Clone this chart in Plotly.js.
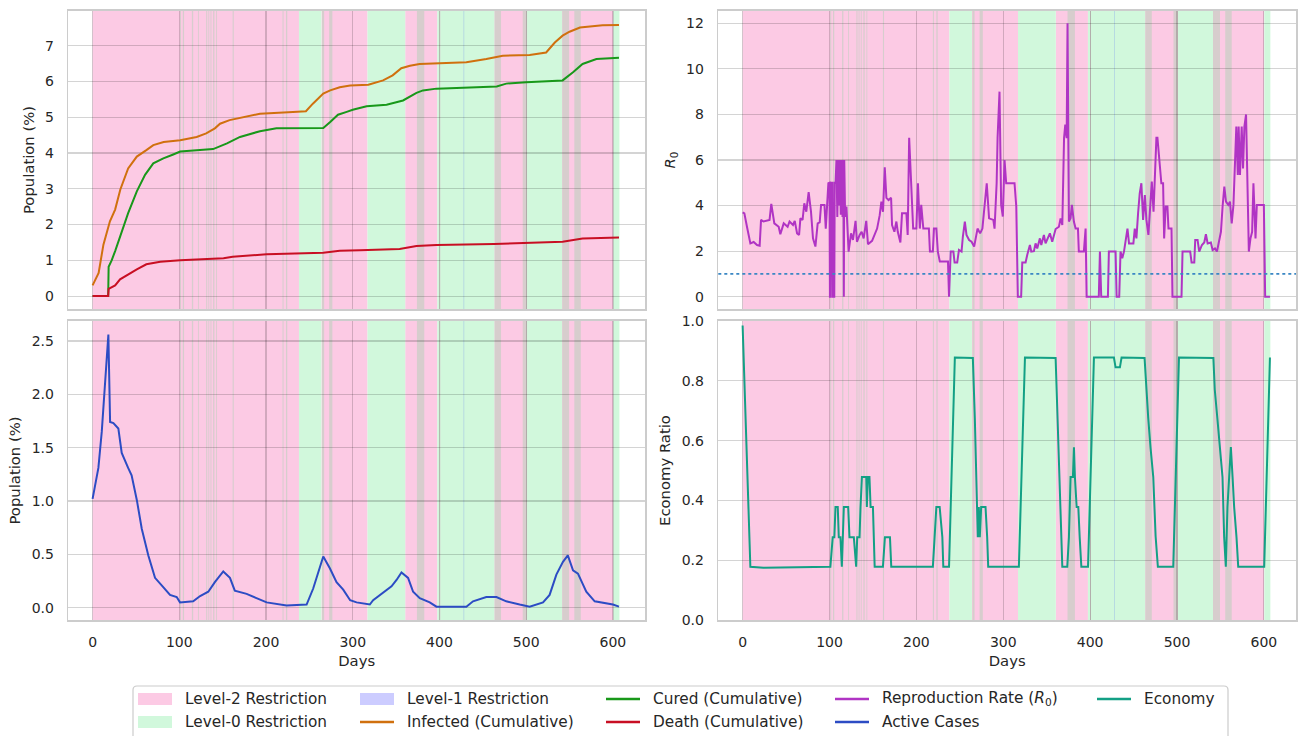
<!DOCTYPE html>
<html><head><meta charset="utf-8">
<script src="https://cdn.plot.ly/plotly-3.0.1.min.js"></script>
<style>html,body{margin:0;padding:0;background:#fff}#chart{width:1306px;height:736px}</style>
</head><body><div id="chart"></div>
<script>
// ---------------- DATA ----------------
const infDays = [0, 2, 7, 12.5, 20, 26, 32, 41, 51, 62, 70, 82, 101, 120, 131, 141, 147, 158, 174, 193, 231, 246, 254, 266, 274, 285, 297, 308, 318, 335, 346, 356, 366, 377, 431, 454, 473, 504, 523, 533, 542, 550, 562, 588, 607];
const infVals = [0.30, 0.40, 0.65, 1.44, 2.09, 2.42, 2.98, 3.57, 3.90, 4.08, 4.22, 4.31, 4.36, 4.45, 4.55, 4.69, 4.82, 4.92, 5.01, 5.10, 5.15, 5.17, 5.38, 5.66, 5.75, 5.84, 5.89, 5.89, 5.91, 6.03, 6.17, 6.37, 6.44, 6.49, 6.54, 6.63, 6.72, 6.74, 6.81, 7.09, 7.28, 7.39, 7.51, 7.57, 7.58];

const curedDays = [0, 18, 18.5, 22, 26, 33.6, 41, 51, 60.5, 70, 81.6, 93, 101, 139, 155, 170, 193, 212, 266, 274, 283, 293, 300, 316, 339, 358, 373.5, 381, 396.5, 466, 477, 500, 542, 554, 565, 581, 607];
const curedVals = [0, 0, 0.82, 1.0, 1.26, 1.81, 2.32, 2.93, 3.39, 3.71, 3.85, 3.96, 4.04, 4.11, 4.27, 4.45, 4.61, 4.69, 4.70, 4.87, 5.07, 5.15, 5.21, 5.31, 5.35, 5.47, 5.68, 5.75, 5.80, 5.86, 5.94, 5.98, 6.03, 6.26, 6.49, 6.63, 6.66];

const deathDays = [0, 18, 18.5, 22, 26, 31.7, 41, 51, 62, 78, 101, 151, 161.5, 200.7, 266, 285, 308, 354, 373.5, 396.5, 463, 542, 565, 607];
const deathVals = [0, 0, 0.20, 0.25, 0.30, 0.47, 0.61, 0.75, 0.89, 0.96, 1.00, 1.06, 1.10, 1.17, 1.21, 1.27, 1.28, 1.32, 1.40, 1.43, 1.46, 1.52, 1.61, 1.64];

const activeDays = [0, 6.7, 10.6, 14.4, 18.2, 20.2, 24, 29.7, 33.6, 41, 45, 51, 56.7, 64.3, 72, 79.7, 89.3, 97, 100.8, 116, 124, 133.4, 141, 150.7, 158.4, 164, 177.6, 189, 200.7, 223.7, 246.8, 254.4, 266, 273.6, 281.3, 289, 297, 304.4, 319.7, 323.5, 335, 344.7, 350.5, 356.2, 363.8, 369.6, 377.3, 388.8, 396.5, 431, 438.7, 454, 465.7, 477, 492.5, 504, 519.4, 527, 534.8, 542.4, 548, 554, 559.7, 569.3, 579, 600, 607];
const activeVals = [1.02, 1.31, 1.65, 2.12, 2.56, 1.74, 1.73, 1.68, 1.45, 1.31, 1.24, 1.01, 0.74, 0.49, 0.28, 0.21, 0.12, 0.10, 0.05, 0.06, 0.11, 0.15, 0.24, 0.34, 0.28, 0.16, 0.13, 0.09, 0.05, 0.02, 0.03, 0.18, 0.48, 0.37, 0.24, 0.17, 0.07, 0.05, 0.03, 0.07, 0.14, 0.20, 0.26, 0.33, 0.28, 0.15, 0.09, 0.05, 0.01, 0.01, 0.06, 0.10, 0.10, 0.06, 0.03, 0.01, 0.05, 0.12, 0.31, 0.43, 0.49, 0.35, 0.32, 0.15, 0.06, 0.03, 0.01];

const r0Days = [0, 2, 5, 8.9, 12.7, 16.6, 19.6, 21.2, 24, 27.9, 31, 33, 36.5, 41.5, 43.4, 47.3, 51.8, 54, 58, 60, 62.7, 65, 66.5, 69, 71, 73.3, 76, 78.7, 81, 83.8, 86.4, 88.7, 90.3, 94.2, 95.7, 98.7,
  100, 100.5, 101.5, 102, 103.5, 104, 105.5, 106, 107, 108, 109, 110, 111, 112, 113, 114, 115, 116, 116.5, 117, 118, 119.5, 122, 124.8, 127, 130, 131.6, 134.7, 137, 139.3, 142.3, 144.3, 149, 154.8, 157.8, 159.7, 161.6, 163.6, 165.5, 168, 170.9, 172, 174.7, 177, 178.6, 181.6, 183.5, 188.5, 190, 191.7, 194.8, 196.3, 200, 201.8, 204, 205.6, 208, 214.4, 215.6, 219, 220.2, 223, 224.7, 227, 236.4, 237.6, 239.5, 242.6, 244, 247, 249, 252, 253.5, 255.8, 257.7, 260.7, 263.5, 266.5, 270.4, 273.4, 276, 278.8, 281, 283.7, 288.6, 290, 292.4, 293.5, 295.7, 297.6, 299.5, 301.5, 303.4, 313, 315, 316.8, 320.6, 321.9, 325.7, 327.6, 330.7, 332.3, 335.3, 337.2, 339.1, 342.2, 343.8, 346.8, 348.7, 353.7, 356.4, 360.3, 364.1, 366, 368, 370, 371.4, 373, 374, 375.6, 377.5, 379, 381.3, 383.3, 386, 387, 392.8, 394.8, 396, 410, 411.3, 412.8, 420.5, 421.6, 429.3, 430.5, 433.5, 435, 437, 439, 441, 443, 444.8, 449.8, 451.4, 453.3, 455.2, 457.1, 459, 461, 463, 464.8, 467.1, 469, 471, 473, 474.8, 476.3, 477.5, 479.4, 482, 484, 485.2, 487, 489, 490.2, 493.7, 494.8, 505.2, 506.4, 515.2, 516.8, 519.9, 521, 523.7, 525.6, 528.7, 531.4, 533.3, 535.3, 539, 541, 543.7, 546, 548.7, 550.6, 552.5, 554.5, 556.4, 559, 561, 563, 565, 566.8, 568.3, 570, 571, 572.5, 574.5, 576, 577.6, 579.5, 581.5, 582.7, 584.6, 586.5, 588, 589.2, 590.4, 591.9, 600, 601.5, 607];
const r0Vals = [3.7, 3.66, 3.07, 2.34, 2.4, 2.27, 2.24, 3.37, 3.3, 3.33, 3.37, 4.07, 3.22, 3.07, 2.74, 3.22, 3.07, 3.3, 3.15, 3.33, 2.78, 2.71, 3.44, 3.37, 4.1, 3.73, 4.59, 3.73, 2.56, 2.2, 3.22, 3.26, 4.03, 4.03, 2.99, 4.98,
  5.0, 0, 0, 5.0, 5.0, 0, 0, 5.0, 5.0, 6.0, 3.5, 6.0, 4.0, 6.0, 3.6, 6.0, 3.5, 6.0, 0, 6.0, 3.5, 3.96, 1.98, 2.78, 2.49, 3.33, 2.41, 2.71, 2.85, 2.56, 3.33, 2.3, 2.45, 2.99, 3.58, 4.17, 3.73, 5.68, 4.34, 4.24, 4.34, 3.14, 2.85, 3.3, 2.85, 2.38, 3.66, 3.66, 2.71, 6.98, 4.46, 2.99, 2.99, 4.98, 2.99, 4.03, 2.99, 2.99, 1.98, 1.98, 2.99, 2.99, 1.98, 1.54, 1.54, 0, 1.98, 1.98, 1.5, 1.5, 2.05, 1.98, 2.63, 3.3, 2.71, 2.49, 2.41, 2.2, 2.99, 2.78, 2.99, 3.96, 4.98, 3.44, 3.37, 2.99, 4.98, 7.0, 9.0, 4.03, 3.52, 6.0, 4.98, 4.98, 3.96, 0, 0, 1.5, 1.5, 1.83, 2.27, 1.98, 2.0, 2.34, 2.12, 2.56, 2.27, 2.71, 2.34, 2.78, 2.41, 2.97, 3.07, 3.44, 3.15, 6.96, 7.55, 6.96, 12.0, 3.3, 3.44, 4.03, 3.3, 2.99, 2.99, 1.98, 1.98, 2.99, 0, 0, 1.98, 0, 0, 1.98, 1.98, 0, 0, 1.98, 1.69, 1.98, 2.41, 2.99, 2.34, 2.34, 2.99, 2.56, 3.66, 4.54, 4.98, 3.37, 4.46, 3.37, 2.71, 3.73, 5.05, 3.73, 5.93, 6.98, 6.98, 6.0, 4.98, 4.98, 2.56, 3.96, 3.96, 2.99, 2.99, 0, 0, 1.98, 1.98, 1.5, 1.5, 2.49, 2.49, 1.98, 2.27, 2.38, 2.74, 2.34, 2.38, 2.05, 2.12, 1.98, 2.56, 2.85, 3.96, 4.83, 4.17, 4.03, 4.17, 3.22, 4.03, 6.37, 7.47, 5.34, 7.47, 5.34, 7.47, 5.63, 7.47, 8.0, 4.03, 1.98, 2.56, 2.85, 4.98, 4.03, 2.56, 4.03, 4.03, 0, 0];
const r0Threshold = 1;

const econDays = [0, 8.9, 24, 101, 103.7, 105.6, 106.9, 109.5, 110.7, 112.6, 114.2, 116.5, 121.5, 123, 128, 130.7, 131.9, 134.6, 135.7, 137.3, 142.3, 143, 144.2, 146, 147.3, 150, 152, 161.5, 163.8, 169.6, 171.1, 219, 221, 223, 226.8, 229.9, 231, 237.6, 244.3, 265, 267.3, 270.7, 271.9, 273, 274.6, 279.6, 281.5, 282.7, 318, 325, 360.3, 368, 373.7, 375.6, 377.5, 380.2, 381.4, 382.5, 384.5, 386.4, 388, 389.9, 397.6, 404.4, 427.4, 429.3, 434.3, 436.2, 462.7, 464.6, 466.9, 469.6, 472.7, 475.4, 478, 495.7, 502.3, 541.9, 543.5, 546.6, 549.3, 552.4, 554.3, 556.2, 558.1, 560, 562, 564, 565.8, 568.5, 570.5, 600.4, 607];
const econVals = [0.985, 0.178, 0.175, 0.178, 0.277, 0.277, 0.378, 0.378, 0.277, 0.277, 0.178, 0.378, 0.378, 0.277, 0.277, 0.178, 0.277, 0.277, 0.378, 0.478, 0.478, 0.378, 0.478, 0.478, 0.378, 0.378, 0.178, 0.178, 0.277, 0.277, 0.178, 0.178, 0.277, 0.378, 0.378, 0.277, 0.178, 0.178, 0.878, 0.876, 0.675, 0.277, 0.378, 0.277, 0.378, 0.378, 0.277, 0.178, 0.178, 0.878, 0.876, 0.178, 0.178, 0.277, 0.478, 0.478, 0.578, 0.478, 0.378, 0.378, 0.277, 0.178, 0.178, 0.878, 0.878, 0.845, 0.845, 0.878, 0.876, 0.78, 0.675, 0.575, 0.478, 0.28, 0.178, 0.178, 0.878, 0.876, 0.77, 0.67, 0.575, 0.478, 0.277, 0.178, 0.378, 0.478, 0.578, 0.478, 0.378, 0.277, 0.178, 0.178, 0.878];

// restriction periods (days)
const level2Spans = [[0, 238], [264, 317], [360.5, 397.5], [463.5, 501], [541.5, 600.5]];
const level0Spans = [[238, 264], [317, 360.5], [397.5, 463.5], [501, 541.5], [600.5, 607.5]];
const level1Spans = [[427.6, 428.6]];
const mixedSpans = [[100.8, 102], [104, 105.5], [114.5, 116], [121.5, 122.5], [131, 132.2], [133.5, 134.5], [136, 137], [139, 140.5], [142.5, 143.5], [161.5, 162.8], [219, 220.2], [223, 224.5], [264.5, 267], [272.8, 276.5], [374, 382.5], [400, 401], [463.5, 471], [496, 501], [541.5, 549.5], [555.5, 563]];

const xTicks = [0, 100, 200, 300, 400, 500, 600];
const legendLabels = ['Level-2 Restriction', 'Level-0 Restriction', 'Level-1 Restriction', 'Infected (Cumulative)', 'Cured (Cumulative)', 'Death (Cumulative)', 'Reproduction Rate (<i>R</i><sub>0</sub>)', 'Active Cases', 'Economy'];

// ---------------- STYLE ----------------
const W = 1306, H = 736;
const C = {
  pink: '#fccae4', green: '#d1f8dc', lav: '#ccccff', mixed: '#d7cdcd', l1line: '#b3d6e2',
  inf: '#d0700e', cured: '#18981a', death: '#c80f23', active: '#2c4cc4', r0: '#b034c4', econ: '#13a085',
  grid: 'rgba(0,0,0,0.17)', frame: '#cccccc', text: '#262626'
};
const FONT = 'DejaVu Sans, Liberation Sans, sans-serif';
const px2x = p => p / W, px2y = p => 1 - p / H;

const domL = [px2x(68.3), px2x(645)], domR = [px2x(718.3), px2x(1296)];
const domT = [px2y(309), px2y(11)], domB = [px2y(620), px2y(321)];
const xRange = [-28, 637];

function xax(dom, anchor, showLabels) {
  const a = {
    domain: dom, anchor: anchor, range: xRange, tickvals: xTicks, showticklabels: showLabels,
    showgrid: true, gridcolor: C.grid, gridwidth: 1.2, zeroline: false,
    showline: true, mirror: true, linecolor: C.frame, linewidth: 1.6,
    ticks: '', ticklabelstandoff: 9, tickfont: {size: 14, color: C.text, family: FONT}
  };
  if (showLabels) a.title = {text: 'Days', font: {size: 14.8, color: C.text, family: FONT}, standoff: 6};
  return a;
}
function yax(dom, anchor, range, tickvals, fmt, title) {
  return {
    domain: dom, anchor: anchor, range: range, tickvals: tickvals, tickformat: fmt,
    showgrid: true, gridcolor: C.grid, gridwidth: 1.2, zeroline: false,
    showline: true, mirror: true, linecolor: C.frame, linewidth: 1.6,
    ticks: '', ticklabelstandoff: 10, tickfont: {size: 14, color: C.text, family: FONT},
    title: {text: title, font: {size: 14.8, color: C.text, family: FONT}, standoff: 7}
  };
}

const traces = [
  {x: infDays, y: infVals, xaxis: 'x', yaxis: 'y', type: 'scatter', mode: 'lines', line: {color: C.inf, width: 2}},
  {x: curedDays, y: curedVals, xaxis: 'x', yaxis: 'y', type: 'scatter', mode: 'lines', line: {color: C.cured, width: 2}},
  {x: deathDays, y: deathVals, xaxis: 'x', yaxis: 'y', type: 'scatter', mode: 'lines', line: {color: C.death, width: 2}},
  {x: r0Days, y: r0Vals, xaxis: 'x2', yaxis: 'y2', type: 'scatter', mode: 'lines', line: {color: C.r0, width: 2}},
  {x: activeDays, y: activeVals, xaxis: 'x3', yaxis: 'y3', type: 'scatter', mode: 'lines', line: {color: C.active, width: 2}},
  {x: econDays, y: econVals, xaxis: 'x4', yaxis: 'y4', type: 'scatter', mode: 'lines', line: {color: C.econ, width: 2}}
];

const shapes = [];
const pairs = [['x', 'y'], ['x2', 'y2'], ['x3', 'y3'], ['x4', 'y4']];
function addSpans(spans, color) {
  pairs.forEach(([xa, ya]) => spans.forEach(s => shapes.push({
    type: 'rect', xref: xa, yref: ya + ' domain', x0: s[0], x1: s[1], y0: 0, y1: 1,
    fillcolor: color, line: {width: 0}, layer: 'below'
  })));
}
addSpans(level2Spans, C.pink);
addSpans(level0Spans, C.green);
addSpans(mixedSpans, C.mixed);
addSpans(level1Spans, C.l1line);

shapes.push({type: 'line', xref: 'x2 domain', yref: 'y2', x0: 0, x1: 1, y0: r0Threshold, y1: r0Threshold,
  line: {color: '#3a87c4', width: 1.6, dash: 'dot'}, layer: 'above'});

// ---------- legend (manual, matplotlib-like 5 columns) ----------
const annotations = [];
const bx0 = 133, bx1 = 1228, by0 = 686, by1 = 760, r = 4;
shapes.push({type: 'path', xref: 'paper', yref: 'paper',
  path: `M ${px2x(bx0 + r)} ${px2y(by0)} L ${px2x(bx1 - r)} ${px2y(by0)} Q ${px2x(bx1)} ${px2y(by0)} ${px2x(bx1)} ${px2y(by0 + r)} L ${px2x(bx1)} ${px2y(by1)} L ${px2x(bx0)} ${px2y(by1)} L ${px2x(bx0)} ${px2y(by0 + r)} Q ${px2x(bx0)} ${px2y(by0)} ${px2x(bx0 + r)} ${px2y(by0)} Z`,
  fillcolor: 'rgba(255,255,255,0.9)', line: {color: '#cccccc', width: 1.2}, layer: 'above'});
const legendStyle = [
  {kind: 'patch', color: C.pink}, {kind: 'patch', color: C.green}, {kind: 'patch', color: C.lav},
  {kind: 'line', color: C.inf}, {kind: 'line', color: C.cured}, {kind: 'line', color: C.death},
  {kind: 'line', color: C.r0}, {kind: 'line', color: C.active}, {kind: 'line', color: C.econ}
];
const colX = [138, 360, 606, 835, 1097], rowY = [699, 722];
legendLabels.forEach((lab, i) => {
  const col = Math.floor(i / 2), row = i % 2;
  const hx = colX[col], hy = rowY[row], hw = 34;
  const st = legendStyle[i];
  if (st.kind === 'patch') {
    shapes.push({type: 'rect', xref: 'paper', yref: 'paper', x0: px2x(hx), x1: px2x(hx + hw), y0: px2y(hy + 6), y1: px2y(hy - 6),
      fillcolor: st.color, line: {width: 0}, layer: 'above'});
  } else {
    shapes.push({type: 'line', xref: 'paper', yref: 'paper', x0: px2x(hx), x1: px2x(hx + hw), y0: px2y(hy), y1: px2y(hy),
      line: {color: st.color, width: 2.6}, layer: 'above'});
  }
  annotations.push({xref: 'paper', yref: 'paper', x: px2x(hx + hw + 11), y: px2y(hy), text: lab, showarrow: false,
    xanchor: 'left', yanchor: 'middle', font: {size: 15.3, color: C.text, family: FONT}});
});

const layout = {
  width: W, height: H, margin: {l: 0, r: 0, t: 0, b: 0}, paper_bgcolor: '#fff', plot_bgcolor: '#fff',
  showlegend: false, font: {family: FONT, color: C.text},
  xaxis: xax(domL, 'y', false), yaxis: yax(domT, 'x', [-0.36, 7.97], [0, 1, 2, 3, 4, 5, 6, 7], 'd', 'Population (%)'),
  xaxis2: xax(domR, 'y2', false), yaxis2: yax(domT, 'x2', [-0.54, 12.54], [0, 2, 4, 6, 8, 10, 12], 'd', '<i>R</i><sub>0</sub>'),
  xaxis3: xax(domL, 'y3', true), yaxis3: yax(domB, 'x3', [-0.115, 2.687], [0, 0.5, 1, 1.5, 2, 2.5], '.1f', 'Population (%)'),
  xaxis4: xax(domR, 'y4', true), yaxis4: yax(domB, 'x4', [0, 1], [0, 0.2, 0.4, 0.6, 0.8, 1.0], '.1f', 'Economy Ratio'),
  shapes: shapes, annotations: annotations
};
Plotly.newPlot('chart', traces, layout, {displayModeBar: false, staticPlot: true});
</script></body></html>
